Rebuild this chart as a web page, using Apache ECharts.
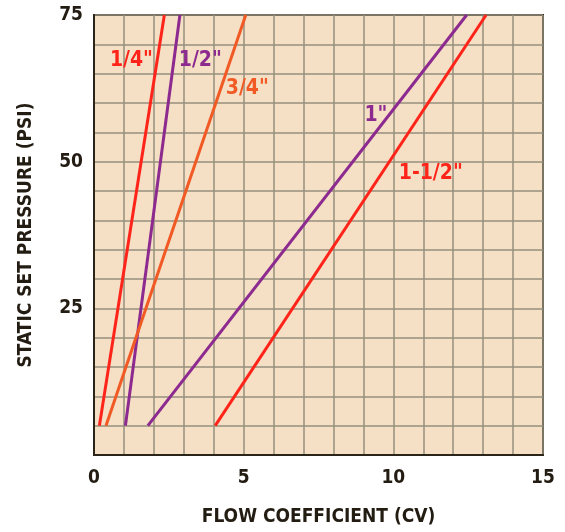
<!DOCTYPE html>
<html>
<head>
<meta charset="utf-8">
<script src="https://cdn.jsdelivr.net/npm/echarts@6/dist/echarts.min.js"></script>
<style>
html,body{margin:0;padding:0;background:#ffffff;}
#chart{width:565px;height:532px;}
</style>
</head>
<body>
<div id="chart"></div>
<script>
// Series: line sizes and their end points [flow coefficient, pressure]
var sizes = ['1/4"', '1/2"', '3/4"', '1"', '1-1/2"'];
var line14 = [[0.18, 5], [2.35, 75]];
var line12 = [[1.05, 5], [2.87, 75]];
var line34 = [[0.40, 5], [5.07, 75]];
var line1 = [[1.80, 5], [12.45, 75]];
var line112 = [[4.05, 5], [13.10, 75]];
// Label anchor points (data coordinates)
var labelPoints = [[1.25, 67.3], [3.55, 67.3], [5.12, 62.5], [9.42, 57.8], [11.25, 47.9]];
// Tick labels shown
var xTickLabels = [0, 5, 10, 15];
var yTickLabels = [25, 50, 75];

var colors = ['#ff2419', '#8c2a8f', '#f15a24', '#8c2a8f', '#ff2419'];
var font = "'Liberation Sans Narrow', 'DejaVu Sans Condensed', 'Liberation Sans', sans-serif";
var lines = [line14, line12, line34, line1, line112];

var series = lines.map(function (d, i) {
  return {
    type: 'line', name: sizes[i], data: d, symbol: 'none', silent: true,
    lineStyle: { color: colors[i], width: 3 }, z: 3
  };
});
series.push({
  type: 'scatter', symbolSize: 0, silent: true, z: 4,
  itemStyle: { opacity: 1 },
  data: labelPoints.map(function (p, i) {
    return {
      value: p,
      itemStyle: { opacity: 1 },
      label: {
        show: true, position: 'inside', formatter: sizes[i], opacity: 1,
        color: colors[i], fontFamily: font, fontWeight: 'bold', fontSize: 21
      }
    };
  })
});

var chart = echarts.init(document.getElementById('chart'));
chart.setOption({
  animation: false,
  grid: {
    left: 94, right: 22, top: 15, bottom: 70,
    show: true, backgroundColor: '#f5dfc5', borderColor: '#2b2418', borderWidth: 2
  },
  xAxis: {
    type: 'value', min: 0, max: 15, interval: 1,
    name: 'FLOW COEFFICIENT (CV)', nameLocation: 'middle', nameGap: 53,
    nameTextStyle: { color: '#231c12', fontFamily: font, fontWeight: 'bold', fontSize: 19 },
    axisLine: { show: true, lineStyle: { color: '#2b2418', width: 2 } },
    axisTick: { show: false },
    axisLabel: {
      color: '#231c12', fontFamily: font, fontWeight: 'bold', fontSize: 19, margin: 14,
      formatter: function (v) { return xTickLabels.indexOf(v) >= 0 ? String(v) : ''; }
    },
    splitLine: { show: true, lineStyle: { color: '#948f7c', width: 1.5 } }
  },
  yAxis: {
    type: 'value', min: 0, max: 75, interval: 5,
    name: 'STATIC SET PRESSURE (PSI)', nameLocation: 'middle', nameGap: 58, nameRotate: 90,
    nameTextStyle: { color: '#231c12', fontFamily: font, fontWeight: 'bold', fontSize: 19 },
    axisLine: { show: true, lineStyle: { color: '#2b2418', width: 2 } },
    axisTick: { show: false },
    axisLabel: {
      color: '#231c12', fontFamily: font, fontWeight: 'bold', fontSize: 19, margin: 11,
      formatter: function (v) { return yTickLabels.indexOf(v) >= 0 ? String(v) : ''; }
    },
    splitLine: { show: true, lineStyle: { color: '#948f7c', width: 1.5 } }
  },
  series: series
});
</script>
</body>
</html>
